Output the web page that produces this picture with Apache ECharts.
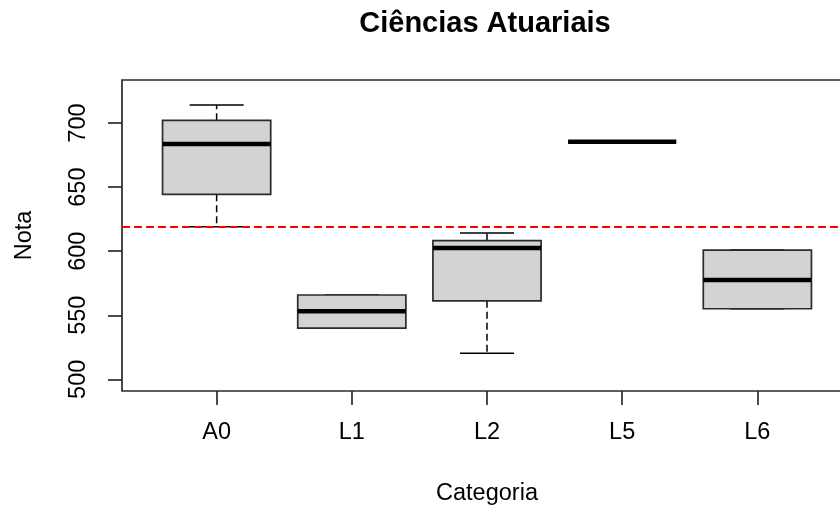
<!DOCTYPE html>
<html>
<head>
<meta charset="utf-8">
<script src="https://cdn.jsdelivr.net/npm/echarts@6/dist/echarts.min.js"></script>
<style>
  html, body { margin: 0; padding: 0; background: #fff; }
  #chart { width: 840px; height: 511px; }
</style>
</head>
<body>
<div id="chart"></div>
<script>
// Boxplot summary per category: lower whisker, Q1, median, Q3, upper whisker
const categories = ['A0', 'L1', 'L2', 'L5', 'L6'];
const whiskerLow  = [619.1, 540.0, 520.3, 685.4, 555.1];
const quartile1   = [644.4, 540.0, 561.3, 685.4, 555.1];
const medians     = [683.6, 553.1, 602.5, 685.4, 577.5];
const quartile3   = [702.1, 565.8, 608.2, 685.4, 600.9];
const whiskerHigh = [714.0, 565.8, 614.2, 685.4, 600.9];
const yTicks = [500, 550, 600, 650, 700];
const referenceValue = 619.1;

const FONT = 'Liberation Sans, Arial, Helvetica, sans-serif';
const INK = '#2b2b2b';

const boxData = categories.map((c, i) => [
  i + 1, whiskerLow[i], quartile1[i], medians[i], quartile3[i], whiskerHigh[i]
]);

function renderBox(params, api) {
  const x = api.value(0);
  const lo = api.value(1), q1 = api.value(2), md = api.value(3),
        q3 = api.value(4), hi = api.value(5);
  const half = 0.4, capHalf = 0.2;
  const pt = (xx, yy) => api.coord([xx, yy]);
  const cx = pt(x, md)[0];
  const pLo = pt(x, lo), pQ1 = pt(x, q1), pMd = pt(x, md), pQ3 = pt(x, q3), pHi = pt(x, hi);
  const left = pt(x - half, md)[0], right = pt(x + half, md)[0];
  const capL = pt(x - capHalf, md)[0], capR = pt(x + capHalf, md)[0];
  const dashed = { stroke: '#000', lineWidth: 1.5, lineDash: [7, 4] };
  const solid = { stroke: '#000', lineWidth: 1.5 };
  return {
    type: 'group',
    children: [
      { type: 'line', shape: { x1: cx, y1: pQ3[1], x2: cx, y2: pHi[1] }, style: dashed },
      { type: 'line', shape: { x1: cx, y1: pQ1[1], x2: cx, y2: pLo[1] }, style: dashed },
      { type: 'line', shape: { x1: capL, y1: pHi[1], x2: capR, y2: pHi[1] }, style: solid },
      { type: 'line', shape: { x1: capL, y1: pLo[1], x2: capR, y2: pLo[1] }, style: solid },
      { type: 'rect', shape: { x: left, y: pQ3[1], width: right - left, height: pQ1[1] - pQ3[1] },
        style: { fill: '#D3D3D3', stroke: INK, lineWidth: 1.7 } },
      { type: 'line', shape: { x1: left, y1: pMd[1], x2: right, y2: pMd[1] },
        style: { stroke: '#000', lineWidth: 4.5 } }
    ]
  };
}

const chart = echarts.init(document.getElementById('chart'));
chart.setOption({
  animation: false,
  backgroundColor: '#fff',
  title: {
    text: 'Ciências Atuariais',
    left: 480,
    top: 4,
    textAlign: 'center',
    textStyle: { fontFamily: FONT, fontSize: 29, fontWeight: 'bold', color: '#000' }
  },
  grid: {
    left: 122, top: 80, width: 730, height: 311,
    outerBoundsMode: 'none',
    containLabel: false,
    show: true, borderColor: INK, borderWidth: 1.7, backgroundColor: 'transparent'
  },
  xAxis: {
    type: 'value',
    min: 0.3, max: 5.7,
    name: 'Categoria',
    nameLocation: 'middle',
    nameGap: 91,
    nameTextStyle: { fontFamily: FONT, fontSize: 23.5, color: '#000' },
    axisLine: { show: false },
    splitLine: { show: false },
    axisTick: {
      show: true, inside: false, length: 14,
      customValues: [1, 2, 3, 4, 5],
      lineStyle: { color: INK, width: 1.7 }
    },
    axisLabel: {
      customValues: [1, 2, 3, 4, 5],
      margin: 30,
      fontFamily: FONT, fontSize: 23.5, color: '#000',
      formatter: v => categories[Math.round(v) - 1]
    }
  },
  yAxis: {
    type: 'value',
    min: 490.9, max: 733.6,
    name: 'Nota',
    nameLocation: 'middle',
    nameGap: 85,
    nameRotate: 90,
    nameTextStyle: { fontFamily: FONT, fontSize: 23.5, color: '#000' },
    axisLine: { show: false },
    splitLine: { show: false },
    axisTick: {
      show: true, inside: false, length: 14,
      customValues: yTicks,
      lineStyle: { color: INK, width: 1.7 }
    },
    axisLabel: {
      customValues: yTicks,
      rotate: 90,
      margin: 31,
      fontFamily: FONT, fontSize: 23.5, color: '#000'
    }
  },
  series: [{
    type: 'custom',
    renderItem: renderBox,
    data: boxData,
    encode: { x: 0, y: [1, 2, 3, 4, 5] },
    silent: true,
    markLine: {
      silent: true,
      symbol: 'none',
      label: { show: false },
      lineStyle: { color: '#ff0000', width: 1.8, type: [8, 4], opacity: 1 },
      data: [{ yAxis: referenceValue }]
    }
  }]
});
</script>
</body>
</html>
